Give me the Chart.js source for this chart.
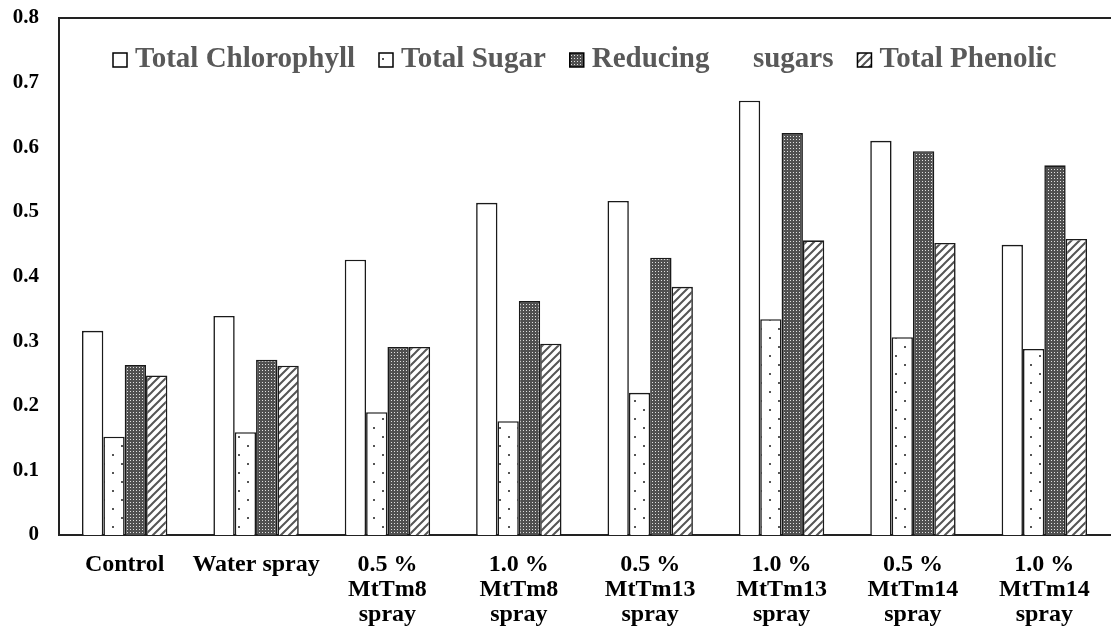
<!DOCTYPE html>
<html>
<head>
<meta charset="utf-8">
<script src="https://cdn.jsdelivr.net/npm/chart.js"></script>
<style>
  html, body { margin: 0; padding: 0; background: #fff; }
  #wrap { width: 1111px; height: 631px; }
</style>
</head>
<body>
<div id="wrap"><canvas id="chart"></canvas></div>
<script>
// categories and series values
const categories = [
  'Control',
  'Water spray',
  ['0.5 %', 'MtTm8', 'spray'],
  ['1.0 %', 'MtTm8', 'spray'],
  ['0.5 %', 'MtTm13', 'spray'],
  ['1.0 %', 'MtTm13', 'spray'],
  ['0.5 %', 'MtTm14', 'spray'],
  ['1.0 %', 'MtTm14', 'spray']
];
const seriesNames = ['Total Chlorophyll', 'Total Sugar', 'Reducing      sugars', 'Total Phenolic'];
const totalChlorophyll = [0.316, 0.339, 0.426, 0.514, 0.517, 0.672, 0.610, 0.449];
const totalSugar = [0.152, 0.159, 0.190, 0.176, 0.220, 0.334, 0.306, 0.288];
const reducingSugars = [0.263, 0.271, 0.291, 0.362, 0.429, 0.622, 0.594, 0.572];
const totalPhenolic = [0.247, 0.262, 0.291, 0.296, 0.384, 0.456, 0.452, 0.458];
const yTicks = [0, 0.1, 0.2, 0.3, 0.4, 0.5, 0.6, 0.7, 0.8];

// hatch patterns
function makePattern(size, draw) {
  const c = document.createElement('canvas');
  c.width = size; c.height = size;
  const g = c.getContext('2d');
  draw(g, size);
  return g.createPattern(c, 'repeat');
}

const plainFill = '#ffffff';
const dotFill = makePattern(18, (g, s) => {
  g.fillStyle = '#fff'; g.fillRect(0, 0, s, s);
  g.fillStyle = '#555';
  g.fillRect(4, 4, 2, 2);
  g.fillRect(13, 13, 2, 2);
});
const checkFill = makePattern(3, (g, s) => {
  g.fillStyle = '#505050'; g.fillRect(0, 0, s, s);
  g.fillStyle = '#e0e0e0'; g.fillRect(1, 1, 1, 1);
});
const stripeFill = makePattern(8, (g, s) => {
  g.fillStyle = '#fff'; g.fillRect(0, 0, s, s);
  g.strokeStyle = '#555'; g.lineWidth = 2;
  g.beginPath();
  g.moveTo(-2, s + 2); g.lineTo(s + 2, -2);
  g.moveTo(-2, 2); g.lineTo(2, -2);
  g.moveTo(s - 2, s + 2); g.lineTo(s + 2, s - 2);
  g.stroke();
});

// legend drawn inside the plot frame
const insideLegend = {
  id: 'insideLegend',
  afterDraw(chart) {
    const ctx = chart.ctx;
    ctx.save();
    ctx.font = 'bold 29px "Liberation Serif", "Times New Roman", serif';
    ctx.textBaseline = 'middle';
    let x = 113;
    const y = 60;
    chart.data.datasets.forEach(ds => {
      ctx.fillStyle = ds.backgroundColor;
      ctx.fillRect(x, y - 7, 14, 14);
      ctx.strokeStyle = '#000';
      ctx.lineWidth = 1.5;
      ctx.strokeRect(x, y - 7, 14, 14);
      ctx.fillStyle = '#595959';
      ctx.fillText(ds.label, x + 22, y);
      x += 22 + ctx.measureText(ds.label).width + 24;
    });
    // top frame line
    const a = chart.chartArea;
    ctx.strokeStyle = '#222';
    ctx.lineWidth = 2;
    ctx.beginPath();
    ctx.moveTo(a.left, a.top);
    ctx.lineTo(chart.width, a.top);
    ctx.stroke();
    ctx.restore();
  }
};

const ctx = document.getElementById('chart').getContext('2d');
new Chart(ctx, {
  type: 'bar',
  data: {
    labels: categories,
    datasets: [
      { label: seriesNames[0], data: totalChlorophyll, backgroundColor: plainFill },
      { label: seriesNames[1], data: totalSugar, backgroundColor: dotFill },
      { label: seriesNames[2], data: reducingSugars, backgroundColor: checkFill },
      { label: seriesNames[3], data: totalPhenolic, backgroundColor: stripeFill }
    ]
  },
  options: {
    responsive: true,
    maintainAspectRatio: false,
    animation: false,
    devicePixelRatio: 1,
    layout: { padding: { top: 18, right: 1, left: 0, bottom: 0 } },
    datasets: {
      bar: {
        borderColor: '#1a1a1a',
        borderWidth: 1.6,
        categoryPercentage: 0.65,
        barPercentage: 1.0
      }
    },
    plugins: {
      legend: { display: false },
      tooltip: { enabled: false }
    },
    scales: {
      x: {
        grid: { display: false, drawTicks: false },
        border: { display: true, color: '#222', width: 2 },
        ticks: {
          color: '#000',
          padding: 17,
          maxRotation: 0,
          autoSkip: false,
          font: { family: '"Liberation Serif", "Times New Roman", serif', size: 24, weight: 'bold', lineHeight: 1.05 }
        },
        afterFit(scale) {
          scale.height = 96;
          scale.paddingLeft = 0;
          scale.paddingRight = 0;
        }
      },
      y: {
        min: 0,
        max: 0.8,
        afterBuildTicks(scale) { scale.ticks = yTicks.map(v => ({ value: v })); },
        grid: { display: false, drawTicks: false },
        border: { display: true, color: '#222', width: 2 },
        ticks: {
          color: '#000',
          padding: 20,
          font: { family: '"Liberation Serif", "Times New Roman", serif', size: 21, weight: 'bold' },
          callback: v => String(Math.round(v * 10) / 10)
        },
        afterFit(scale) {
          scale.width = 59;
          scale.paddingTop = 0;
          scale.paddingBottom = 0;
        }
      }
    }
  },
  plugins: [insideLegend]
});
</script>
</body>
</html>
